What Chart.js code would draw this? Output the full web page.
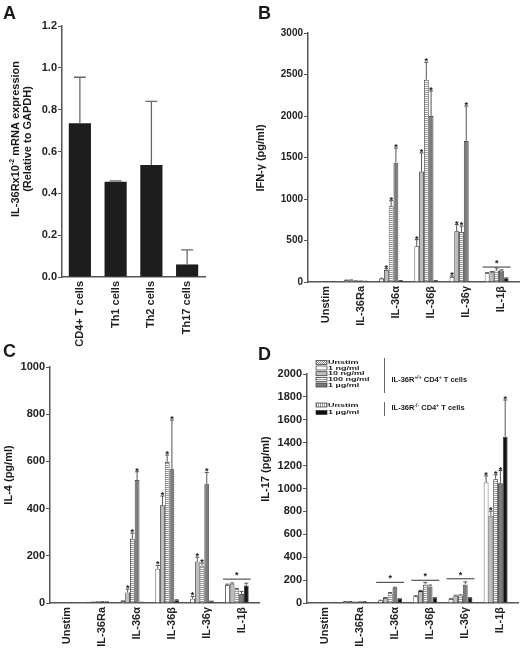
<!DOCTYPE html>
<html lang="en">
<head>
  <meta charset="UTF-8">
  <title>IL-36R expression and cytokine production</title>
  <script src="https://cdn.jsdelivr.net/npm/chart.js@4.4.1/dist/chart.umd.min.js"></script>
  <style>
    html, body { margin: 0; padding: 0; background: #fff; }
    body { width: 520px; height: 650px; position: relative; overflow: hidden; }
    .panel { position: absolute; }
  </style>
</head>
<body>
  <div class="panel" style="left:0;top:0;width:260px;height:350px"><canvas id="chartA"></canvas></div>
  <div class="panel" style="left:254px;top:0;width:266px;height:350px"><canvas id="chartB"></canvas></div>
  <div class="panel" style="left:0;top:325px;width:260px;height:325px"><canvas id="chartC"></canvas></div>
  <div class="panel" style="left:254px;top:325px;width:266px;height:325px"><canvas id="chartD"></canvas></div>

  <script>
    const FONT = "'Liberation Sans', Arial, Helvetica, sans-serif";
    Chart.defaults.font.family = FONT;
    Chart.defaults.font.weight = 'bold';
    Chart.defaults.color = '#222';
    Chart.defaults.animation = false;

    // Panel A: IL-36R mRNA by cell type
    const cellTypes = ['CD4+ T cells', 'Th1 cells', 'Th2 cells', 'Th17 cells'];
    const il36rMrna = [0.735, 0.455, 0.535, 0.06];
    const il36rMrnaErr = [0.22, 0.005, 0.305, 0.07];

    // Panels B-D: categories shared by all cytokine panels
    const stimuli = ['Unstim', 'IL-36Ra', 'IL-36α', 'IL-36β', 'IL-36γ', 'IL-1β'];

    // B: IFN-gamma (pg/ml)
    const ifng1ng   = [null, 20, 40, 430, 60, 105];
    const ifng10ng  = [null, 22, 145, 1330, 612, 118];
    const ifng100ng = [null, 12, 914, 2437, 604, 140];
    const ifng1ug   = [null, 10, 1438, 2002, 1700, 138];
    const ifngKo1ug = [null, 8, 15, 15, 5, 45];
    const ifngUnstim   = [4, null, null, null, null, null];
    const ifngKoUnstim = [3, null, null, null, null, null];
    const ifng1ngErr   = [null, 3, 5, 80, 12, 8];
    const ifng10ngErr  = [null, 3, 15, 225, 80, 10];
    const ifng100ngErr = [null, 2, 65, 210, 70, 28];
    const ifng1ugErr   = [null, 2, 175, 300, 420, 8];
    const ifngKo1ugErr = [null, 1, 3, 3, 1, 5];
    const ifngStars = [[3, 4], [2, 3, 4], [2, 3, 4], [2, 3, 4], []];
    const ifngSigCats = [5];
    const ifngSigLevels = [180];

    // C: IL-4 (pg/ml)
    const il4_1ng   = [null, 2, 8, 145, 18, 77];
    const il4_10ng  = [null, 3, 45, 414, 176, 82];
    const il4_100ng = [null, 4, 272, 598, 158, 58];
    const il4_1ug   = [null, 5, 521, 567, 503, 38];
    const il4Ko1ug  = [null, 4, 2, 12, 7, 74];
    const il4Unstim   = [1, null, null, null, null, null];
    const il4KoUnstim = [1, null, null, null, null, null];
    const il4_1ngErr   = [null, 0.5, 1, 14, 10, 3];
    const il4_10ngErr  = [null, 0.5, 14, 39, 18, 3];
    const il4_100ngErr = [null, 1, 24, 29, 11, 4];
    const il4_1ugErr   = [null, 1, 35, 208, 50, 11];
    const il4Ko1ugErr  = [null, 1, 1, 2, 1, 10];
    const il4Stars = [[3, 4], [2, 3, 4], [2, 3, 4], [2, 3, 4], []];
    const il4SigCats = [5];
    const il4SigLevels = [101];

    // D: IL-17 (pg/ml)
    const il17_1ng   = [null, 12, 22, 58, 35, 1052];
    const il17_10ng  = [null, 12, 45, 104, 64, 762];
    const il17_100ng = [null, 6, 86, 160, 66, 1081];
    const il17_1ug   = [null, 9, 134, 145, 160, 1046];
    const il17Ko1ug  = [null, 11, 36, 44, 44, 1453];
    const il17Unstim   = [10, null, null, null, null, null];
    const il17KoUnstim = [5, null, null, null, null, null];
    const il17_1ngErr   = [null, 1, 2, 5, 3, 58];
    const il17_10ngErr  = [null, 1, 3, 6, 4, 40];
    const il17_100ngErr = [null, 1, 6, 20, 5, 38];
    const il17_1ugErr   = [null, 1, 4, 12, 25, 111];
    const il17Ko1ugErr  = [null, 1, 2, 3, 3, 320];
    const il17Stars = [[5], [5], [5], [5], [5]];
    const il17SigCats = [2, 3, 4];
    const il17SigLevels = [180, 198, 212];

    // legend rows (panel D)
    const legendWt = ['Unstim', '1 ng/ml', '10 ng/ml', '100 ng/ml', '1 µg/ml'];
    const legendKo = ['Unstim', '1 µg/ml'];

    // fills
    function pattern(w, h, paint) {
      const c = document.createElement('canvas');
      c.width = w; c.height = h;
      const g = c.getContext('2d');
      paint(g);
      return g.createPattern(c, 'repeat');
    }
    const fillUnstim = pattern(2, 2, g => {
      g.fillStyle = '#fff'; g.fillRect(0, 0, 2, 2);
      g.fillStyle = '#8a8a8a'; g.fillRect(0, 0, 1, 1); g.fillRect(1, 1, 1, 1);
    });
    const fill1ng = '#ffffff';
    const fill10ng = '#bdbdbd';
    const fill100ng = pattern(1, 2, g => {
      g.fillStyle = '#fff'; g.fillRect(0, 0, 1, 2);
      g.fillStyle = '#9a9a9a'; g.fillRect(0, 0, 1, 1);
    });
    const fill1ug = '#7b7b7b';
    const fillKoUnstim = pattern(2, 1, g => {
      g.fillStyle = '#fff'; g.fillRect(0, 0, 2, 1);
      g.fillStyle = '#9a9a9a'; g.fillRect(0, 0, 1, 1);
    });
    const fillKo1ug = '#111111';

    // error bars, asterisks, significance lines
    const barExtras = {
      id: 'barExtras',
      afterDatasetsDraw(chart, args, opts) {
        if (!opts.errors) return;
        const ctx = chart.ctx;
        const y = chart.scales.y;
        const topOf = (i, j) => {
          const v = chart.data.datasets[i].data[j];
          const e = (opts.errors[i] && opts.errors[i][j]) || 0;
          return y.getPixelForValue(v + e);
        };
        ctx.save();
        ctx.strokeStyle = opts.color;
        ctx.lineWidth = opts.lineWidth;
        opts.errors.forEach((err, i) => {
          if (!err) return;
          const data = chart.data.datasets[i].data;
          chart.getDatasetMeta(i).data.forEach((bar, j) => {
            if (data[j] == null || !err[j]) return;
            const top = topOf(i, j);
            ctx.beginPath();
            ctx.moveTo(bar.x, bar.y);
            ctx.lineTo(bar.x, top);
            ctx.moveTo(bar.x - opts.cap / 2, top);
            ctx.lineTo(bar.x + opts.cap / 2, top);
            ctx.stroke();
          });
        });

        ctx.fillStyle = '#222';
        ctx.font = 'bold 9px ' + FONT;
        ctx.textAlign = 'center';
        ctx.textBaseline = 'alphabetic';
        (opts.stars || []).forEach((cats, i) => {
          const meta = chart.getDatasetMeta(i);
          cats.forEach(j => {
            ctx.fillText('*', meta.data[j].x, topOf(i, j) + 2);
          });
        });

        (opts.sigCats || []).forEach((c, k) => {
          let l = Infinity, r = -Infinity;
          chart.data.datasets.forEach((ds, i) => {
            if (ds.data[c] == null) return;
            const bar = chart.getDatasetMeta(i).data[c];
            l = Math.min(l, bar.x - bar.width / 2);
            r = Math.max(r, bar.x + bar.width / 2);
          });
          const py = y.getPixelForValue(opts.sigLevels[k]);
          ctx.strokeStyle = '#555';
          ctx.lineWidth = 1.2;
          ctx.beginPath();
          ctx.moveTo(l - 2, py);
          ctx.lineTo(r + 2, py);
          ctx.stroke();
          ctx.fillText('*', (l + r) / 2, py - 1);
        });
        ctx.restore();
      }
    };

    // text with raised parts: [[text, isSuperscript], ...]
    function drawParts(ctx, parts, x, y, size) {
      const supSize = Math.round(size * 0.68);
      const widths = parts.map(([t, sup]) => {
        ctx.font = 'bold ' + (sup ? supSize : size) + 'px ' + FONT;
        return ctx.measureText(t).width;
      });
      let cx = x;
      parts.forEach(([t, sup], k) => {
        ctx.font = 'bold ' + (sup ? supSize : size) + 'px ' + FONT;
        ctx.fillText(t, cx, sup ? y - size * 0.38 : y);
        cx += widths[k];
      });
      return widths.reduce((a, b) => a + b, 0);
    }
    function partsWidth(ctx, parts, size) {
      const supSize = Math.round(size * 0.68);
      return parts.reduce((s, [t, sup]) => {
        ctx.font = 'bold ' + (sup ? supSize : size) + 'px ' + FONT;
        return s + ctx.measureText(t).width;
      }, 0);
    }

    // panel letter, y title, and the hand laid-out legend of panel D
    const panelDecor = {
      id: 'panelDecor',
      afterDraw(chart, args, o) {
        const ctx = chart.ctx;
        ctx.save();
        ctx.fillStyle = '#1a1a1a';
        ctx.textBaseline = 'alphabetic';
        ctx.textAlign = 'left';
        ctx.font = 'bold 18px ' + FONT;
        ctx.fillText(o.letter, o.letterX, o.letterY);

        o.titles.forEach((parts, k) => {
          ctx.save();
          ctx.translate(o.titleX[k], o.titleY);
          ctx.rotate(-Math.PI / 2);
          ctx.textBaseline = 'middle';
          const w = partsWidth(ctx, parts, 11);
          drawParts(ctx, parts, -w / 2, 0, 11);
          ctx.restore();
        });

        if (o.legend) {
          const L = o.legend;
          const rows = [];
          L.wt.forEach((t, k) => rows.push([t, L.wtFills[k], L.wtY[k]]));
          L.ko.forEach((t, k) => rows.push([t, L.koFills[k], L.koY[k]]));
          rows.forEach(([t, fill, yy]) => {
            ctx.fillStyle = fill;
            ctx.fillRect(L.swX, yy - 2, 11, 4);
            ctx.strokeStyle = '#333';
            ctx.lineWidth = 0.7;
            ctx.strokeRect(L.swX, yy - 2, 11, 4);
            ctx.save();
            ctx.translate(L.swX + 12, yy);
            ctx.scale(1, 0.68);
            ctx.fillStyle = '#1a1a1a';
            ctx.font = 'bold 9px ' + FONT;
            ctx.textBaseline = 'middle';
            ctx.fillText(t, 0, 0);
            ctx.restore();
          });
          ctx.strokeStyle = '#666';
          ctx.lineWidth = 1;
          L.bars.forEach(([x, y1, y2]) => {
            ctx.beginPath(); ctx.moveTo(x, y1); ctx.lineTo(x, y2); ctx.stroke();
          });
          ctx.fillStyle = '#1a1a1a';
          ctx.textBaseline = 'middle';
          L.groupLabels.forEach(([parts, x, yy]) => drawParts(ctx, parts, x, yy, 7.5));
        }
        ctx.restore();
      }
    };

    function yAxis(max, step, width, size, fmt) {
      return {
        min: 0, max: max,
        ticks: { stepSize: step, padding: 1, color: '#222', font: { size: size, weight: 'bold' },
                 callback: fmt || (v => v) },
        grid: { drawOnChartArea: false, drawTicks: true, tickLength: 4, color: '#555', lineWidth: 1 },
        border: { display: true, color: '#555', width: 1.5 },
        afterFit(s) { s.width = width; }
      };
    }
    function xAxis(height, size) {
      return {
        ticks: { minRotation: 90, maxRotation: 90, autoSkip: false, padding: 4, color: '#222',
                 font: { size: size, weight: 'bold' } },
        grid: { display: false, drawTicks: false },
        border: { display: true, color: '#555', width: 1.5 },
        afterFit(s) { s.height = height; }
      };
    }

    // Panel A
    new Chart(document.getElementById('chartA'), {
      type: 'bar',
      data: {
        labels: cellTypes,
        datasets: [{ data: il36rMrna, backgroundColor: '#1d1d1d', borderWidth: 0,
                     categoryPercentage: 1, barPercentage: 0.62 }]
      },
      options: {
        responsive: true, maintainAspectRatio: false,
        layout: { padding: { left: 0, top: 26, right: 55, bottom: 0 } },
        scales: {
          x: xAxis(73, 11),
          y: yAxis(1.2, 0.2, 62, 11, v => v.toFixed(1))
        },
        plugins: {
          legend: { display: false }, tooltip: { enabled: false },
          barExtras: { errors: [il36rMrnaErr], color: '#6a6a6a', lineWidth: 1.3, cap: 12 },
          panelDecor: {
            letter: 'A', letterX: 3, letterY: 19,
            titles: [[['IL-36Rx10', false], ['-2', true], [' mRNA expression', false]],
                     [['(Relative to GAPDH)', false]]],
            titleX: [16, 28], titleY: 139
          }
        }
      },
      plugins: [barExtras, panelDecor]
    });

    const seriesFills = [fill1ng, fill10ng, fill100ng, fill1ug, fillKo1ug, fillUnstim, fillKoUnstim];
    const seriesNames = ['1 ng/ml', '10 ng/ml', '100 ng/ml', '1 µg/ml', 'IL-36R-/- 1 µg/ml', 'Unstim', 'IL-36R-/- Unstim'];
    function cytokineSets(series) {
      return series.map((d, i) => ({
        label: seriesNames[i], data: d, backgroundColor: seriesFills[i],
        borderColor: '#222', borderWidth: 0.8,
        categoryPercentage: 0.95, barPercentage: 1
      }));
    }
    function cytokineChart(id, series, opts) {
      return new Chart(document.getElementById(id), {
        type: 'bar',
        data: { labels: stimuli, datasets: cytokineSets(series) },
        options: {
          responsive: true, maintainAspectRatio: false,
          layout: { padding: { left: 0, top: opts.top, right: opts.right, bottom: 0 } },
          scales: {
            x: xAxis(opts.xh, 11),
            y: yAxis(opts.max, opts.step, opts.yw, opts.tick)
          },
          plugins: {
            legend: { display: false }, tooltip: { enabled: false },
            barExtras: { errors: opts.errors, stars: opts.stars, sigCats: opts.sigCats,
                         sigLevels: opts.sigLevels, color: '#555', lineWidth: 1, cap: 4 },
            panelDecor: opts.decor
          }
        },
        plugins: [barExtras, panelDecor]
      });
    }

    cytokineChart('chartB',
      [ifng1ng, ifng10ng, ifng100ng, ifng1ug, ifngKo1ug, ifngUnstim, ifngKoUnstim],
      { top: 33, right: 1, xh: 68, yw: 54, max: 3000, step: 500, tick: 10,
        errors: [ifng1ngErr, ifng10ngErr, ifng100ngErr, ifng1ugErr, ifngKo1ugErr],
        stars: ifngStars, sigCats: ifngSigCats, sigLevels: ifngSigLevels,
        decor: { letter: 'B', letterX: 4, letterY: 19,
                 titles: [[['IFN-γ (pg/ml)', false]]], titleX: [7], titleY: 158 } });

    cytokineChart('chartC',
      [il4_1ng, il4_10ng, il4_100ng, il4_1ug, il4Ko1ug, il4Unstim, il4KoUnstim],
      { top: 42, right: 1, xh: 47, yw: 50, max: 1000, step: 200, tick: 11,
        errors: [il4_1ngErr, il4_10ngErr, il4_100ngErr, il4_1ugErr, il4Ko1ugErr],
        stars: il4Stars, sigCats: il4SigCats, sigLevels: il4SigLevels,
        decor: { letter: 'C', letterX: 3, letterY: 32,
                 titles: [[['IL-4 (pg/ml)', false]]], titleX: [9], titleY: 150 } });

    cytokineChart('chartD',
      [il17_1ng, il17_10ng, il17_100ng, il17_1ug, il17Ko1ug, il17Unstim, il17KoUnstim],
      { top: 49, right: 2, xh: 47, yw: 53, max: 2000, step: 200, tick: 11,
        errors: [il17_1ngErr, il17_10ngErr, il17_100ngErr, il17_1ugErr, il17Ko1ugErr],
        stars: il17Stars, sigCats: il17SigCats, sigLevels: il17SigLevels,
        decor: { letter: 'D', letterX: 4, letterY: 35,
                 titles: [[['IL-17 (pg/ml)', false]]], titleX: [12], titleY: 144,
                 legend: {
                   swX: 62,
                   wt: legendWt, wtFills: [fillUnstim, fill1ng, fill10ng, fill100ng, fill1ug],
                   wtY: [37.5, 43, 48.7, 54.3, 60],
                   ko: legendKo, koFills: [fillKoUnstim, fillKo1ug],
                   koY: [80, 87.5],
                   bars: [[130.5, 33, 68], [130.5, 77, 91]],
                   groupLabels: [
                     [[['IL-36R', false], ['+/+', true], [' CD4', false], ['+', true], [' T cells', false]], 137.5, 55],
                     [[['IL-36R', false], ['-/-', true], [' CD4', false], ['+', true], [' T cells', false]], 137.5, 83]
                   ]
                 } } });
  </script>
</body>
</html>
